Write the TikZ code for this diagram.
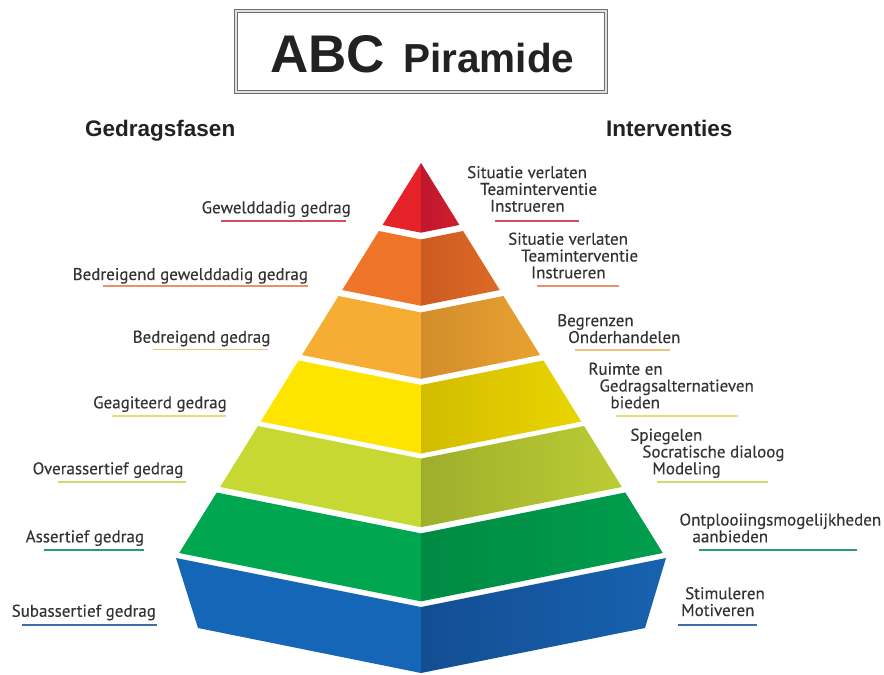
\documentclass[tikz,border=0pt]{standalone}
\usepackage{fontspec}
\setmainfont{PT Sans}
\newfontfamily\labelfont{PT Sans}[FakeBold=0.3]
\newfontfamily\headfont{Liberation Sans}
\usepackage{tikz}
\usetikzlibrary{positioning}
\definecolor{labelgrey}{RGB}{51,51,51}
\definecolor{titlegrey}{RGB}{34,34,34}
\definecolor{framegrey}{RGB}{110,110,110}
\definecolor{framegap}{RGB}{225,225,225}
\definecolor{redL}{HTML}{E42228}\definecolor{redD}{HTML}{BE1730}\definecolor{redR}{HTML}{D01E2C}
\definecolor{orangeL}{HTML}{EE7427}\definecolor{orangeD}{HTML}{CC5B22}\definecolor{orangeR}{HTML}{DF6A26}
\definecolor{lorangeL}{HTML}{F5AD33}\definecolor{lorangeD}{HTML}{D38D2A}\definecolor{lorangeR}{HTML}{E8A232}
\definecolor{yellowL}{HTML}{FDE500}\definecolor{yellowD}{HTML}{D2BC00}\definecolor{yellowR}{HTML}{E9D500}
\definecolor{ygL}{HTML}{C6D831}\definecolor{ygD}{HTML}{9FAE2C}\definecolor{ygR}{HTML}{BCCC34}
\definecolor{greenL}{HTML}{00A650}\definecolor{greenD}{HTML}{008A43}\definecolor{greenR}{HTML}{009E4D}
\definecolor{blueL}{HTML}{1566B7}\definecolor{blueD}{HTML}{134E92}\definecolor{blueR}{HTML}{1762B0}
\definecolor{ulred}{HTML}{D94A60}
\definecolor{ulorange}{HTML}{E8916A}
\definecolor{ullorange}{HTML}{EEC27A}
\definecolor{ulyellow}{HTML}{E6DE70}
\definecolor{ulyg}{HTML}{CBDB6A}
\definecolor{ulgreen}{HTML}{2E9B6E}
\definecolor{ulblue}{HTML}{3F6DAA}
\tikzset{
  phase/.style={anchor=base west,inner sep=0pt,text=labelgrey,
    font=\labelfont\fontsize{17}{16.8}\selectfont},
  action/.style={phase,align=left},
  header/.style={anchor=base west,inner sep=0pt,text=titlegrey,
    font=\headfont\bfseries\fontsize{22.5}{24}\selectfont},
  titlebig/.style={anchor=base west,inner sep=0pt,text=titlegrey,
    font=\headfont\bfseries\fontsize{53}{56}\selectfont},
  titlesmall/.style={anchor=base west,inner sep=0pt,text=titlegrey,
    font=\headfont\bfseries\fontsize{40.5}{43}\selectfont},
  titleframe/.style={draw=framegrey,double=framegap,line width=1.1pt,
    double distance=1.2pt},
  uline/.style={line width=1.6pt}
}
% one layer of the pyramid: top y, bottom y, left face, right face dark, right face light
\newcommand{\pyrlayer}[5]{%
  \pgfmathsetmacro{\hwT}{(#1-163)*0.62}
  \pgfmathsetmacro{\hwB}{(#2-163)*0.62}
  \pgfmathsetmacro{\dipT}{#1+0.2*\hwT}
  \pgfmathsetmacro{\dipB}{#2+0.2*\hwB}
  \fill[#3] (421-\hwT,#1) -- (421,\dipT) -- (421,\dipB) -- (421-\hwB,#2) -- cycle;
  \shade[left color=#4,right color=#5]
    (421,\dipT) -- (421+\hwT,#1) -- (421+\hwB,#2) -- (421,\dipB) -- cycle;
}

\begin{document}
\begin{tikzpicture}[x=1pt,y=-1pt]
  \useasboundingbox (0,0) rectangle (884,675);

  % title
  \draw[titleframe] (236,11) rectangle (606,92);
  \node[titlebig] (abc) at (270,72) {ABC};
  \node[titlesmall,right=18pt of abc.base east,anchor=base west] (piramide) {Piramide};

  % column headers
  \node[header] (fasen) at (85,136.5) {Gedragsfasen};
  \node[header] (interventies) at (606,136.5) {Interventies};

  % pyramid
  \pyrlayer{163}{225}{redL}{redD}{redR}
  \pyrlayer{231}{290}{orangeL}{orangeD}{orangeR}
  \pyrlayer{296}{355}{lorangeL}{lorangeD}{lorangeR}
  \pyrlayer{360.5}{421.5}{yellowL}{yellowD}{yellowR}
  \pyrlayer{426}{487}{ygL}{ygD}{ygR}
  \pyrlayer{492.5}{553}{greenL}{greenD}{greenR}
  \fill[blueL] (176,558) -- (421,607) -- (421,673) -- (198,628) -- cycle;
  \shade[left color=blueD,right color=blueR]
    (421,607) -- (666,558) -- (645,628) -- (421,673) -- cycle;

  % behaviour phases
  \node[phase] (geweld) at (201.5,213.3) {Gewelddadig gedrag};
  \draw[uline,ulred] (221,221) -- (346,221);
  \node[phase] (dreiggeweld) at (72.5,280) {Bedreigend gewelddadig gedrag};
  \draw[uline,ulorange] (103,286) -- (308,286);
  \node[phase] (dreig) at (132.5,342.7) {Bedreigend gedrag};
  \draw[uline,ullorange] (152.5,349.5) -- (268,349.5);
  \node[phase] (agitatie) at (93,408.3) {Geagiteerd gedrag};
  \draw[uline,ulyellow] (111.5,416) -- (225.5,416);
  \node[phase] (overassert) at (32.5,474.3) {Overassertief gedrag};
  \draw[uline,ulyg] (58,482) -- (186,482);
  \node[phase] (assert) at (25.5,542.3) {Assertief gedrag};
  \draw[uline,ulgreen] (44,550) -- (143.5,550);
  \node[phase] (subassert) at (11.5,616.7) {Subassertief gedrag};
  \draw[uline,ulblue] (21.5,625) -- (156.5,625);

  % interventions (placed at the baseline of their last line)
  \node[action] (int1) at (467,211.7)
    {Situatie verlaten\\\hspace*{13pt}Teaminterventie\\\hspace*{23pt}Instrueren};
  \draw[uline,ulred] (495,221) -- (579,221);
  \node[action] (int2) at (508,278.3)
    {Situatie verlaten\\\hspace*{13pt}Teaminterventie\\\hspace*{23pt}Instrueren};
  \draw[uline,ulorange] (536.5,286) -- (619,286);
  \node[action] (int3) at (557,343)
    {Begrenzen\\\hspace*{11pt}Onderhandelen};
  \draw[uline,ullorange] (575,350) -- (670,350);
  \node[action] (int4) at (588.3,408.3)
    {Ruimte en\\\hspace*{11pt}Gedragsalternatieven\\\hspace*{22pt}bieden};
  \draw[uline,ulyellow] (616,416) -- (738,416);
  \node[action] (int5) at (630.2,474.3)
    {Spiegelen\\\hspace*{12pt}Socratische dialoog\\\hspace*{22pt}Modeling};
  \draw[uline,ulyg] (656.5,482) -- (768,482);
  \node[action] (int6) at (679.3,542.3)
    {Ontplooiingsmogelijkheden\\\hspace*{13pt}aanbieden};
  \draw[uline,ulgreen] (699,550) -- (857,550);
  \node[action] (int7) at (685,616)
    {Stimuleren\\\hspace*{-4pt}Motiveren};
  \draw[uline,ulblue] (677.5,625) -- (756.5,625);
\end{tikzpicture}
\end{document}
